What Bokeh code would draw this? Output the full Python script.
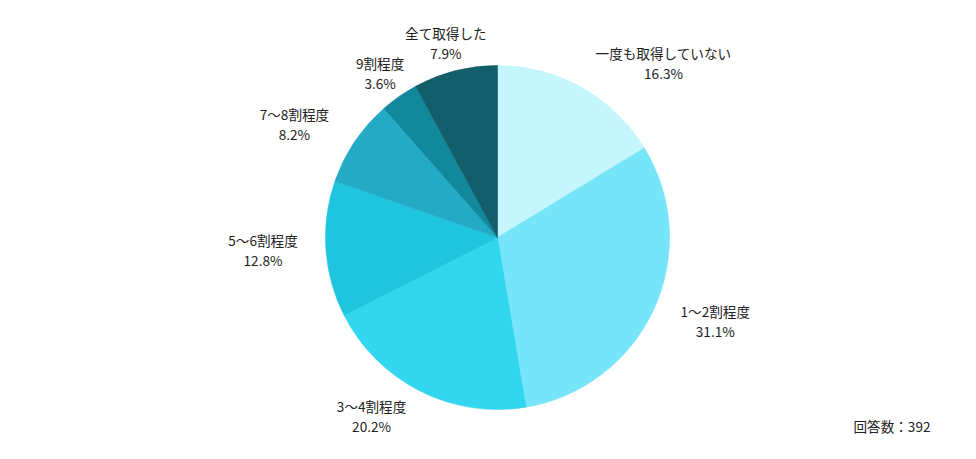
import math
from bokeh.plotting import figure
from bokeh.models import ColumnDataSource, Range1d
from bokeh.core.properties import value
from bokeh.embed import file_html
from bokeh.resources import INLINE

# ---- data ----
categories = ["一度も取得していない", "1〜2割程度", "3〜4割程度", "5〜6割程度", "7〜8割程度", "9割程度", "全て取得した"]
percents = [16.3, 31.1, 20.2, 12.8, 8.2, 3.6, 7.9]
respondents = 392

# ---- style / layout ----
colors = ["#c5f5fd", "#76e5f9", "#32d6ef", "#1fc4de", "#23aac4", "#12889c", "#125e6b"]
W, H = 976, 459
CX, CY_PX, R = 497, 237, 172
LABEL_R = 235
# pixel nudges of each label block relative to its radial anchor (layout only)
label_nudge = [(51, 30), (4, -14), (-20, -31), (0, -3), (-8, 18), (17, 28), (6, 33)]
FONT = "Noto Sans CJK JP"
FSIZE = "13.6px"
TCOLOR = "#222222"

CY = H - CY_PX
total = sum(percents)
starts, ends, mids = [], [], []
c = 0.0
for v in percents:
    a0 = c / total
    c += v
    a1 = c / total
    starts.append(math.pi / 2 - 2 * math.pi * a0)
    ends.append(math.pi / 2 - 2 * math.pi * a1)
    mids.append((a0 + a1) / 2 * 2 * math.pi)  # clockwise from top

src = ColumnDataSource(dict(start=starts, end=ends, color=colors))

p = figure(width=W, height=H, x_range=Range1d(0, W), y_range=Range1d(0, H),
           output_backend="svg", toolbar_location=None,
           x_axis_location=None, y_axis_location=None,
           min_border=0, min_border_left=0, min_border_right=0,
           min_border_top=0, min_border_bottom=0)
p.grid.visible = False
p.outline_line_color = None
p.background_fill_color = "white"
p.border_fill_color = "white"

p.wedge(x=CX, y=CY, radius=R, start_angle="start", end_angle="end",
        direction="clock", fill_color="color", line_color="color", line_width=0.6, source=src)

lx, ly1, ly2 = [], [], []
for m, (nx, ny) in zip(mids, label_nudge):
    px = CX + LABEL_R * math.sin(m) + nx
    py = CY_PX - LABEL_R * math.cos(m) + ny
    lx.append(px)
    ly1.append(H - (py - 10))
    ly2.append(H - (py + 10))

pct_text = [f"{v:.1f}%" for v in percents]
lab = ColumnDataSource(dict(x=lx, y1=ly1, y2=ly2, name=categories, pct=pct_text))
p.text(x="x", y="y1", text="name", source=lab, text_align="center", text_baseline="middle",
       text_font=value(FONT), text_font_size=FSIZE, text_color=TCOLOR)
p.text(x="x", y="y2", text="pct", source=lab, text_align="center", text_baseline="middle",
       text_font=value(FONT), text_font_size=FSIZE, text_color=TCOLOR)

p.text(x=[930], y=[H - 425], text=[f"回答数：{respondents}"], text_align="right",
       text_baseline="middle", text_font=value(FONT), text_font_size=FSIZE, text_color=TCOLOR)

open("out.html", "w").write(file_html(p, INLINE))
